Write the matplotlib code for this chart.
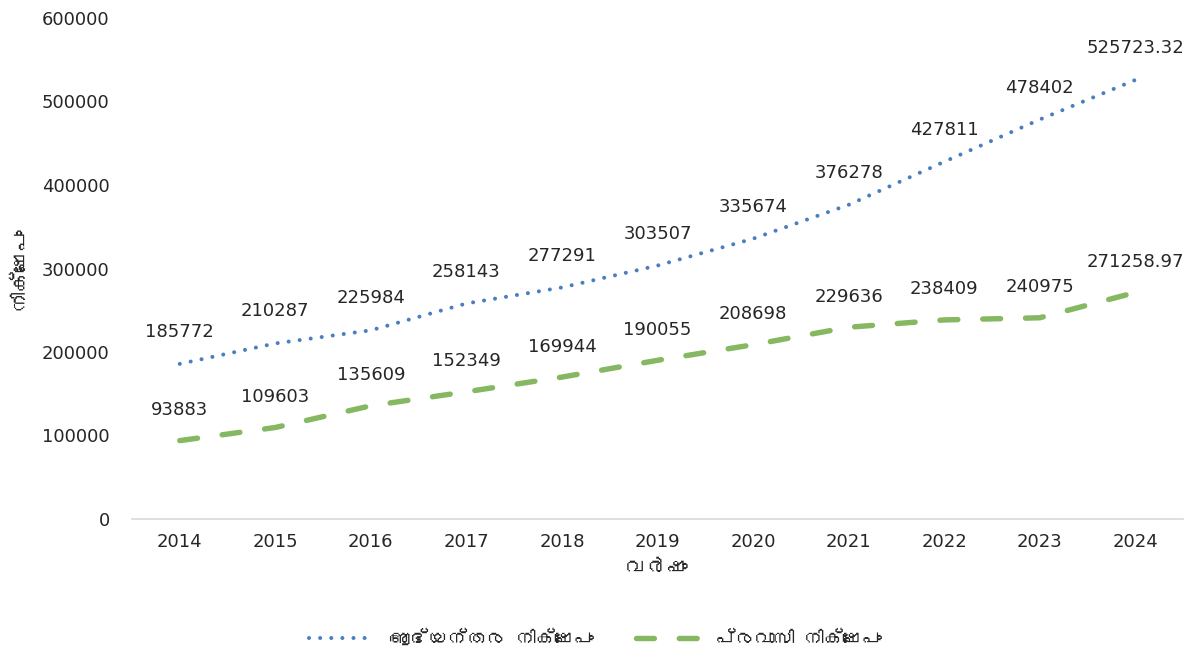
import matplotlib
matplotlib.use("Agg")
import matplotlib.pyplot as plt
from matplotlib import font_manager
from matplotlib.ft2font import FT2Font

# Data
years = ["2014", "2015", "2016", "2017", "2018", "2019", "2020", "2021", "2022", "2023", "2024"]
domestic = [185772, 210287, 225984, 258143, 277291, 303507, 335674, 376278, 427811, 478402, 525723.32]
nri = [93883, 109603, 135609, 152349, 169944, 190055, 208698, 229636, 238409, 240975, 271258.97]
domestic_name = "ആഭ്യന്തര നിക്ഷേപം"
nri_name = "പ്രവാസി നിക്ഷേപം"
x_title = "വർഷം"
y_title = "നിക്ഷേപം"
y_ticks = [0, 100000, 200000, 300000, 400000, 500000, 600000]


# Look for any installed font with Malayalam glyphs
def find_malayalam():
    for f in font_manager.fontManager.ttflist:
        try:
            if FT2Font(f.fname).get_char_index(0x0D28):
                return f.name
        except Exception:
            pass
    return None


ml_font = find_malayalam()
base = "DejaVu Sans"
families = [base, ml_font] if ml_font else [base]
ml_families = [ml_font, base] if ml_font else [base]
plt.rcParams["font.family"] = families

blue = "#4a7ebf"
green = "#85b861"
text_col = "#262626"

fig = plt.figure(figsize=(11.91, 6.52), dpi=100)
ax = fig.add_axes([132 / 1191, 1 - 519 / 652, (1183 - 132) / 1191, (519 - 18) / 652])

xs = list(range(len(years)))
ax.plot(xs, domestic, color=blue, linewidth=2.9, linestyle=(0, (0.01, 2.75)),
        dash_capstyle="round", label=domestic_name)
ax.plot(xs, nri, color=green, linewidth=3.9, linestyle=(0, (3.3, 4.6)),
        dash_capstyle="round", label=nri_name)


def fmt(v):
    return f"{v:.0f}" if v == int(v) else f"{v:.2f}"


for i, v in enumerate(domestic):
    ax.annotate(fmt(v), (xs[i], v), xytext=(0, 23), textcoords="offset points",
                ha="center", va="center", fontsize=13, color=text_col)
for i, v in enumerate(nri):
    ax.annotate(fmt(v), (xs[i], v), xytext=(0, 22), textcoords="offset points",
                ha="center", va="center", fontsize=13, color=text_col)

ax.set_xlim(-0.5, len(years) - 0.5)
ax.set_ylim(0, 600000)
ax.set_xticks(xs)
ax.set_xticklabels(years)
ax.set_yticks(y_ticks)
ax.set_yticklabels([str(t) for t in y_ticks])
ax.tick_params(axis="both", length=0, labelsize=13, labelcolor=text_col)
ax.tick_params(axis="x", pad=10)
ax.tick_params(axis="y", pad=16)

for s in ["top", "right", "left"]:
    ax.spines[s].set_visible(False)
ax.spines["bottom"].set_color("#d9d9d9")
ax.spines["bottom"].set_linewidth(1.2)

ax.set_xlabel(x_title, fontsize=15, fontweight="bold", color=text_col, labelpad=6,
              family=ml_families)
ax.set_ylabel(y_title, fontsize=15, fontweight="bold", color=text_col, labelpad=10,
              family=ml_families)

fig.legend(loc="center", bbox_to_anchor=(0.5, 1 - 638 / 652), ncol=2, frameon=False,
           prop={"family": ml_families, "size": 14}, handlelength=3.4,
           handletextpad=0.7, columnspacing=2.2, labelcolor=text_col)

fig.savefig("out.png", dpi=100)
